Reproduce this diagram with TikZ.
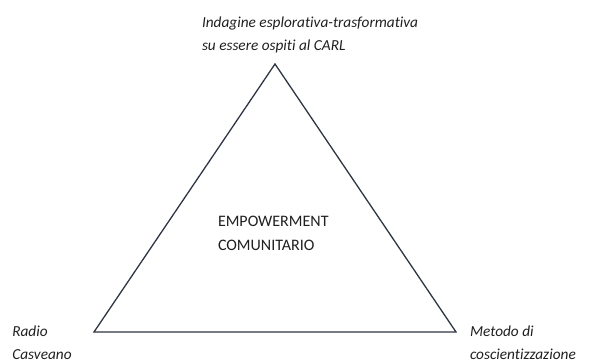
\documentclass[tikz,border=0pt]{standalone}
\usepackage{fontspec}
\setmainfont{Carlito}[Ligatures=CommonOff]
\begin{document}
\begin{tikzpicture}[x=1pt,y=-1pt,
  edge/.style={draw=edgecol,line width=1.3pt,line join=miter},
  label/.style={font=\fontsize{15.3}{23}\selectfont\itshape,text=txtcol,
    inner sep=0pt,outer sep=0pt,align=left,anchor=base west},
  core/.style={font=\fontsize{16}{24}\selectfont,text=txtcol,
    inner sep=0pt,outer sep=0pt,align=left,anchor=base west}]
\definecolor{edgecol}{HTML}{2F3542}
\definecolor{txtcol}{HTML}{202020}
\useasboundingbox[fill=white] (0,0) rectangle (589,361);
% corners of the triangle
\coordinate (top) at (275,64);
\coordinate (bl) at (94,332);
\coordinate (br) at (456,332);
\draw[edge] (top) -- (br) -- (bl) -- cycle;
% labels at the corners (positioned by the baseline of their last line)
\node[label] (lt) at (202,50.7) {Indagine esplorativa-trasformativa\\su essere ospiti al CARL};
\node[label] (ll) at (12.3,359) {Radio\\Casveano};
\node[label] (lr) at (470,359) {Metodo di\\coscientizzazione};
% centre text
\node[core] (mid) at (218,250) {EMPOWERMENT\\COMUNITARIO};
\end{tikzpicture}
\end{document}
